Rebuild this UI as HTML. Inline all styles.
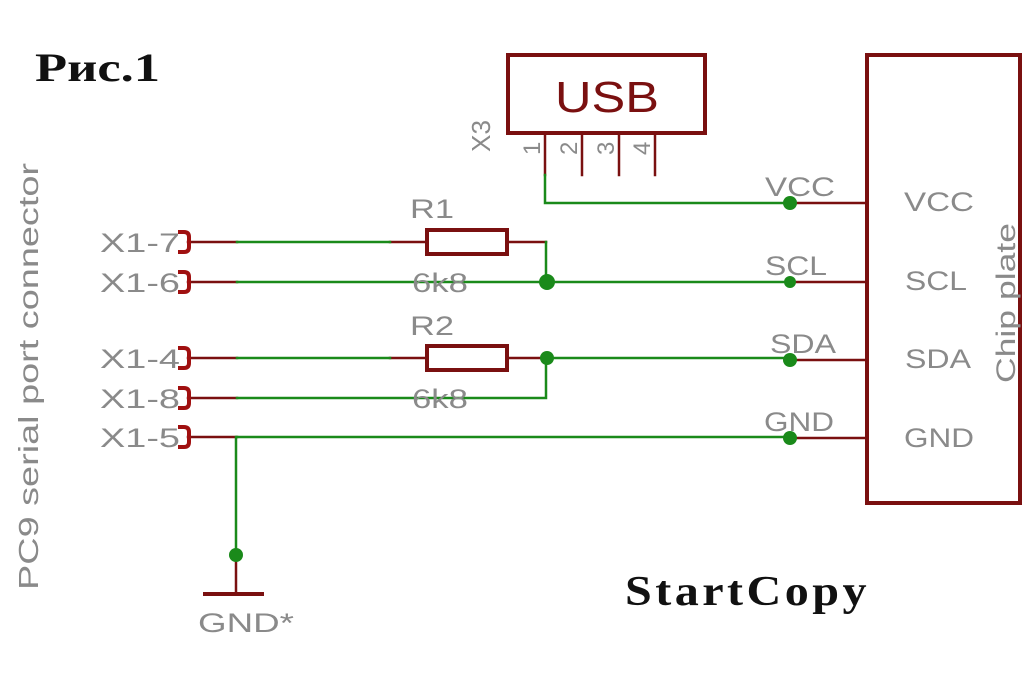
<!DOCTYPE html>
<html><head><meta charset="utf-8"><style>
html,body{margin:0;padding:0;background:#fff;width:1024px;height:682px;overflow:hidden}
svg{display:block}
.g{font-family:"Liberation Sans",sans-serif;fill:#8a8a8a}
</style></head><body>
<svg width="1024" height="682" viewBox="0 0 1024 682" xmlns="http://www.w3.org/2000/svg">
<g fill="none" stroke-linecap="square">
<rect x="867" y="55" width="153" height="448" stroke="#7a1010" stroke-width="4"/>
<rect x="508" y="55" width="197" height="78" stroke="#7a1010" stroke-width="4"/>
<g stroke="#7a1010" stroke-width="2.5">
<line x1="545" y1="133" x2="545" y2="175"/>
<line x1="582" y1="133" x2="582" y2="175"/>
<line x1="619" y1="133" x2="619" y2="175"/>
<line x1="655" y1="133" x2="655" y2="175"/>
<line x1="790" y1="203" x2="867" y2="203"/>
<line x1="790" y1="282" x2="867" y2="282"/>
<line x1="790" y1="360" x2="867" y2="360"/>
<line x1="790" y1="438" x2="867" y2="438"/>
<line x1="188" y1="242" x2="237" y2="242"/>
<line x1="188" y1="282" x2="237" y2="282"/>
<line x1="188" y1="358" x2="237" y2="358"/>
<line x1="188" y1="398" x2="237" y2="398"/>
<line x1="188" y1="437" x2="237" y2="437"/>
<line x1="390" y1="242" x2="427" y2="242"/>
<line x1="507" y1="242" x2="546" y2="242"/>
<line x1="390" y1="358" x2="427" y2="358"/>
<line x1="507" y1="358" x2="546" y2="358"/>
<line x1="236" y1="555" x2="236" y2="593"/>
</g>
<line x1="205" y1="594" x2="262" y2="594" stroke="#7a1010" stroke-width="4"/>
<rect x="427" y="230" width="80" height="24" stroke="#7a1010" stroke-width="4"/>
<rect x="427" y="346" width="80" height="24" stroke="#7a1010" stroke-width="4"/>
<g stroke="#a01010" stroke-width="4">
<path d="M180 232 h4 q5 0 5 5 v10 q0 5 -5 5 h-4"/>
<path d="M180 272 h4 q5 0 5 5 v10 q0 5 -5 5 h-4"/>
<path d="M180 348 h4 q5 0 5 5 v10 q0 5 -5 5 h-4"/>
<path d="M180 388 h4 q5 0 5 5 v10 q0 5 -5 5 h-4"/>
<path d="M180 427 h4 q5 0 5 5 v10 q0 5 -5 5 h-4"/>
</g>
<g stroke="#1a8a1a" stroke-width="2.5">
<path d="M545 175 V203 H790"/>
<line x1="237" y1="242" x2="390" y2="242"/>
<line x1="237" y1="282" x2="790" y2="282"/>
<line x1="546" y1="242" x2="546" y2="282"/>
<line x1="237" y1="358" x2="390" y2="358"/>
<line x1="546" y1="358" x2="790" y2="358"/>
<path d="M237 398 H546 V358"/>
<line x1="237" y1="437" x2="790" y2="437"/>
<line x1="236" y1="437" x2="236" y2="555"/>
</g>
</g>
<g fill="#1a8a1a">
<circle cx="790" cy="203" r="7"/>
<circle cx="790" cy="282" r="6"/>
<circle cx="790" cy="360" r="7"/>
<circle cx="790" cy="438" r="7"/>
<circle cx="547" cy="282" r="8"/>
<circle cx="547" cy="358" r="7"/>
<circle cx="236" cy="555" r="7"/>
</g>
<text x="555" y="112" font-family="Liberation Sans,sans-serif" font-size="44" fill="#7a1010" textLength="104" lengthAdjust="spacingAndGlyphs">USB</text>
<text x="35" y="81" font-family="Liberation Serif,serif" font-weight="bold" font-size="40" fill="#111" textLength="125" lengthAdjust="spacingAndGlyphs">Рис.1</text>
<text x="625" y="605" font-family="Liberation Serif,serif" font-weight="bold" font-size="42" fill="#111" textLength="245" lengthAdjust="spacingAndGlyphs" letter-spacing="3">StartCopy</text>
<g class="g" font-size="27">
<text x="100" y="252" textLength="80" lengthAdjust="spacingAndGlyphs">X1-7</text>
<text x="100" y="292" textLength="80" lengthAdjust="spacingAndGlyphs">X1-6</text>
<text x="100" y="368" textLength="80" lengthAdjust="spacingAndGlyphs">X1-4</text>
<text x="100" y="408" textLength="80" lengthAdjust="spacingAndGlyphs">X1-8</text>
<text x="100" y="447" textLength="80" lengthAdjust="spacingAndGlyphs">X1-5</text>
<text x="410" y="218" textLength="44" lengthAdjust="spacingAndGlyphs">R1</text>
<text x="410" y="335" textLength="44" lengthAdjust="spacingAndGlyphs">R2</text>
<text x="412" y="292" textLength="56" lengthAdjust="spacingAndGlyphs">6k8</text>
<text x="412" y="408" textLength="56" lengthAdjust="spacingAndGlyphs">6k8</text>
<text x="765" y="196" textLength="70" lengthAdjust="spacingAndGlyphs">VCC</text>
<text x="765" y="275" textLength="62" lengthAdjust="spacingAndGlyphs">SCL</text>
<text x="770" y="353" textLength="66" lengthAdjust="spacingAndGlyphs">SDA</text>
<text x="764" y="431" textLength="70" lengthAdjust="spacingAndGlyphs">GND</text>
<text x="904" y="211" textLength="70" lengthAdjust="spacingAndGlyphs">VCC</text>
<text x="905" y="290" textLength="62" lengthAdjust="spacingAndGlyphs">SCL</text>
<text x="905" y="368" textLength="66" lengthAdjust="spacingAndGlyphs">SDA</text>
<text x="904" y="447" textLength="70" lengthAdjust="spacingAndGlyphs">GND</text>
<text x="198" y="632" textLength="96" lengthAdjust="spacingAndGlyphs">GND*</text>
<text transform="translate(1015,383) rotate(-90)" textLength="160" lengthAdjust="spacingAndGlyphs">Chip plate</text>
<text transform="translate(38,590) rotate(-90)" font-size="28" textLength="427" lengthAdjust="spacingAndGlyphs">PC9 serial port connector</text>
<text transform="translate(490,152) rotate(-90)" font-size="26" textLength="32" lengthAdjust="spacingAndGlyphs">X3</text>
</g>
<g class="g" font-size="24">
<text transform="translate(540,155) rotate(-90)">1</text>
<text transform="translate(577,155) rotate(-90)">2</text>
<text transform="translate(614,155) rotate(-90)">3</text>
<text transform="translate(650,155) rotate(-90)">4</text>
</g>
</svg>
</body></html>
